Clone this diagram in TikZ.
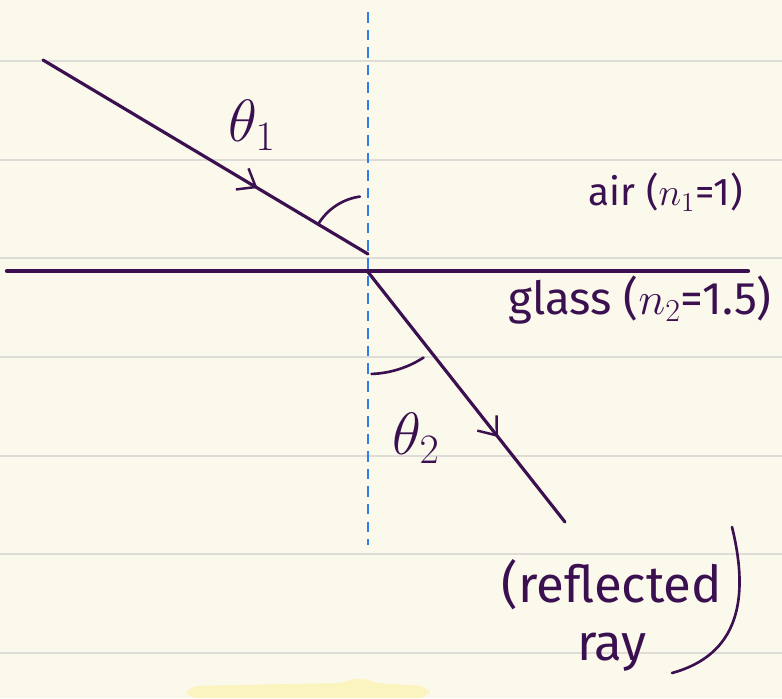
\RequirePackage{fix-cm}
\documentclass[tikz,border=0pt]{standalone}
\usepackage{fontspec}
\setmainfont{Fira Sans}
\usepackage{xcolor}
\usetikzlibrary{arrows.meta,decorations.markings,positioning}
\definecolor{ink}{HTML}{3B1050}
\definecolor{paper}{HTML}{FBF8EC}
\definecolor{ruling}{HTML}{DEDCD6}
\definecolor{normalblue}{HTML}{2F7DE8}
\definecolor{marker}{HTML}{FCF4BE}

\tikzset{
    ray/.style={ink, line width=1.8pt, line cap=round},
    flowmark/.style={postaction={decorate}, decoration={markings, mark=at position #1 with {\arrow{Straight Barb[length=9pt, width=14pt, line width=1.4pt]}}}},
    anglearc/.style={ink, line width=1.5pt, line cap=round},
    inklabel/.style={text=ink, inner sep=0pt, font=\fontsize{23}{27}\selectfont},
    thetalabel/.style={text=ink, inner sep=0pt, font=\fontsize{34}{38}\selectfont},
}

\begin{document}
\begin{tikzpicture}[x=0.02cm, y=-0.02cm]
    % paper
    \fill[paper] (0,0) rectangle (782,698);
    \useasboundingbox (0,0) rectangle (782,698);
    \foreach \yy in {61,160,258,357,456,554,653}
        \draw[ruling, line width=1.6pt] (0,\yy) -- (782,\yy);
    \fill[marker, rounded corners=6pt] (185,698) -- (188,686) -- (345,683) -- (360,676) -- (372,683) -- (428,686) -- (430,698) -- cycle;

    % points
    \coordinate (src) at (43,60);
    \coordinate (hitA) at (368,254);
    \coordinate (hitB) at (368,272);
    \coordinate (exit) at (565,522);
    \coordinate (normTop) at (368,12);
    \coordinate (normBot) at (368,545);
    \coordinate (surfL) at (7,271);
    \coordinate (surfR) at (748,271);

    % normal and surface
    \draw[normalblue, line width=1.3pt, dash pattern=on 6pt off 4pt] (normTop) -- (normBot);
    \draw[ink, line width=2.4pt, line cap=round] (surfL) -- (surfR);

    % rays
    \draw[ray, flowmark=0.66] (src) -- (hitA);
    \draw[ray, flowmark=0.66] (hitB) -- (exit);

    % angles
    \draw[anglearc] (hitA) ++(212:58) arc (212:262:58);
    \draw[anglearc] (hitB) ++(57:102) arc (57:88:102);

    % labels
    \node[thetalabel] (thetaA) at (252,125) {$\theta_1$};
    \node[thetalabel] (thetaB) at (416,438) {$\theta_2$};
    \node[inklabel, font=\fontsize{22}{26}\selectfont] (airlbl) at (666,192) {air ($n_1$=1)};
    \node[inklabel, font=\fontsize{26}{30}\selectfont] (glasslbl) at (640,300) {glass ($n_2$=1.5)};
    \node[inklabel, font=\fontsize{29}{33}\selectfont] (rayA) at (612,585) {(reflected};
    \node[inklabel, font=\fontsize{29}{33}\selectfont] (rayB) at (612,652) {ray};
    \draw[ink, line width=1.5pt, line cap=round] (732,527) .. controls (750,600) and (738,655) .. (672,673);
\end{tikzpicture}
\end{document}
